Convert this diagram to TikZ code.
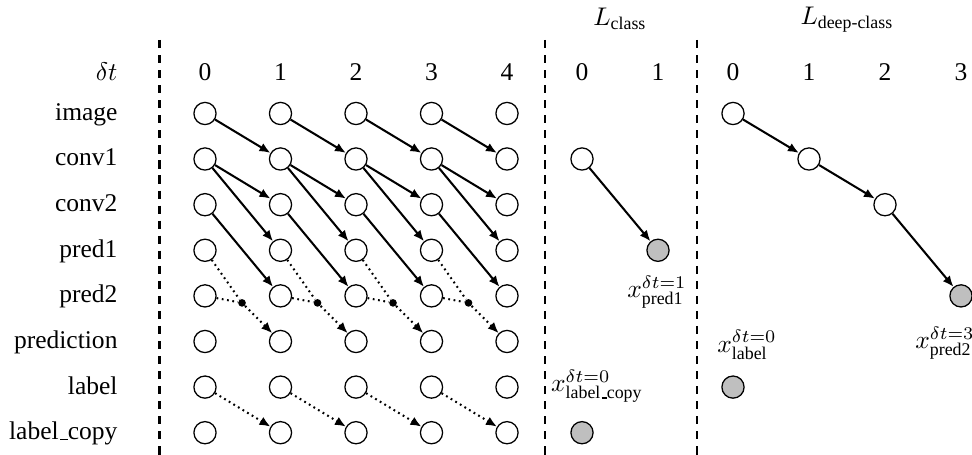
\documentclass[tikz,border=0pt]{standalone}
\usepackage{amsmath}
\usepackage{fontspec}
\setmainfont{Liberation Serif}
\usetikzlibrary{arrows.meta,calc}

% narrow underscore, as in classic LaTeX text fonts
\newcommand{\lowbar}{\leavevmode\kern.06em\vbox{\hrule width .3em}}

\begin{document}
\begin{tikzpicture}[x=0.392pt,y=-0.392pt,
  var/.style={circle,draw,line width=0.5pt,minimum size=8.7pt,inner sep=0pt},
  obs/.style={var,fill=black!25},
  edge/.style={-{Latex[length=4.3pt,width=3.6pt]},line width=0.8pt},
  dotedge/.style={edge,dash pattern=on 0.7pt off 1.4pt},
  dotline/.style={line width=0.8pt,dash pattern=on 0.7pt off 1.4pt},
  sep/.style={line width=0.8pt,dash pattern=on 3.2pt off 2.7pt},
  junc/.style={circle,fill,inner sep=0pt,minimum size=3pt},
  rowlab/.style={anchor=base east,inner sep=0pt},
  colhead/.style={anchor=base,inner sep=0pt},
  obslab/.style={inner sep=0pt},
]
\useasboundingbox (0,0) rectangle (972,455);

% row labels
\node[rowlab] (lab-dt) at (118,80.5) {$\delta t$};
\foreach \r/\txt/\y in {image/image/113.5, conv1/conv1/159, conv2/conv2/204.7,
    pred1/pred1/250.3, pred2/pred2/295.9, prediction/prediction/341.5,
    label/label/387.1, labelcopy/label\lowbar copy/432.7}
  \node[rowlab] (lab-\r) at (118,\y+7) {\txt};

% separators
\coordinate (s1t) at (159.5,40); \coordinate (s1b) at (159.5,455);
\coordinate (s2t) at (545,40);   \coordinate (s2b) at (545,455);
\coordinate (s3t) at (697,40);   \coordinate (s3b) at (697,455);
\draw[sep] (s1t) -- (s1b);
\draw[sep] (s2t) -- (s2b);
\draw[sep] (s3t) -- (s3b);

% unrolled network
\foreach \c/\x in {0/205,1/280.5,2/356,3/431.5,4/507} {
  \node[colhead] (hd-\c) at (\x,80.5) {\c};
  \foreach \r/\y in {image/113.5, conv1/159, conv2/204.7, pred1/250.3,
      pred2/295.9, prediction/341.5, label/387.1, labelcopy/432.7}
    \node[var] (\r-\c) at (\x,\y) {};
}

\foreach \c [evaluate=\c as \n using int(\c+1)] in {0,...,3} {
  \draw[edge] (image-\c) -- (conv1-\n);
  \draw[edge] (conv1-\c) -- (conv2-\n);
  \draw[edge] (conv1-\c) -- (pred1-\n);
  \draw[edge] (conv2-\c) -- (pred2-\n);
  \node[junc] (j-\c) at ($(pred2-\c)+(37,7)$) {};
  \draw[dotline] (pred1-\c) -- (j-\c);
  \draw[dotline] (pred2-\c) -- (j-\c);
  \draw[dotedge] (j-\c) -- (prediction-\n);
  \draw[dotedge] (label-\c) -- (labelcopy-\n);
}

% L_class
\node[colhead] (cls-title) at (620,26) {$L_{\text{class}}$};
\node[colhead] (cls-h0) at (582,80.5) {0};
\node[colhead] (cls-h1) at (658,80.5) {1};
\node[var] (cls-conv1) at (582,159) {};
\node[obs] (cls-pred1) at (658,250.3) {};
\node[obs] (cls-labelcopy) at (582,432.7) {};
\draw[edge] (cls-conv1) -- (cls-pred1);
\node[obslab] (cls-pred1-lab) at (657,292) {$x^{\delta t=1}_{\text{pred1}}$};
\node[obslab] (cls-labelcopy-lab) at (597,386) {$x^{\delta t=0}_{\text{label\lowbar copy}}$};

% L_deep-class
\node[colhead] (deep-title) at (847,25) {$L_{\text{deep-class}}$};
\foreach \c/\x in {0/733,1/809,2/885,3/961}
  \node[colhead] (deep-h\c) at (\x,80.5) {\c};
\node[var] (deep-image) at (733,113.5) {};
\node[var] (deep-conv1) at (809,159) {};
\node[var] (deep-conv2) at (885,204.7) {};
\node[obs] (deep-pred2) at (961,295.9) {};
\node[obs] (deep-label) at (733,387.1) {};
\draw[edge] (deep-image) -- (deep-conv1);
\draw[edge] (deep-conv1) -- (deep-conv2);
\draw[edge] (deep-conv2) -- (deep-pred2);
\node[obslab] (deep-label-lab) at (747,345) {$x^{\delta t=0}_{\text{label}}$};
\node[obslab] (deep-pred2-lab) at (945,343) {$x^{\delta t=3}_{\text{pred2}}$};
\end{tikzpicture}
\end{document}
